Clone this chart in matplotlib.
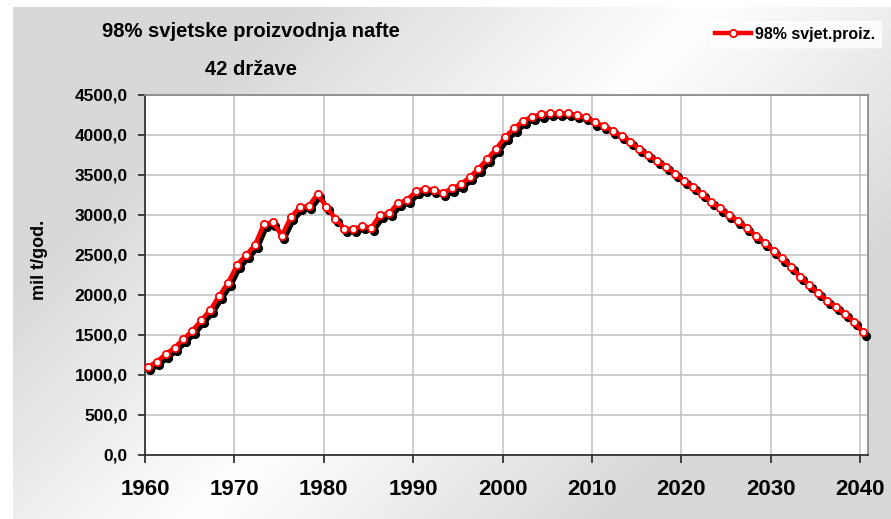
import matplotlib
matplotlib.use("Agg")
import matplotlib.pyplot as plt
import matplotlib.transforms as mtransforms
from matplotlib.lines import Line2D
from matplotlib.ticker import FuncFormatter
import numpy as np

# podaci: proizvodnja nafte (mil t/god.), 98% svjetske proizvodnje, 42 drzave
godine = list(range(1960, 2041))
proizvodnja = [
    1090, 1160, 1252, 1336, 1444, 1548, 1681, 1806, 1985, 2148,
    2369, 2494, 2619, 2881, 2902, 2735, 2965, 3090, 3106, 3256,
    3090, 2948, 2823, 2819, 2856, 2835, 2994, 3015, 3144, 3181,
    3290, 3325, 3306, 3265, 3327, 3377, 3465, 3573, 3698, 3823,
    3973, 4077, 4171, 4223, 4252, 4265, 4265, 4265, 4244, 4215,
    4152, 4110, 4048, 3981, 3910, 3815, 3744, 3669, 3598, 3506,
    3421, 3340, 3256, 3160, 3077, 2994, 2923, 2835, 2735, 2648,
    2544, 2452, 2340, 2223, 2119, 2015, 1923, 1840, 1756, 1660,
    1527,
]
x_ticks = [1960, 1970, 1980, 1990, 2000, 2010, 2020, 2030, 2040]
y_ticks = [0, 500, 1000, 1500, 2000, 2500, 3000, 3500, 4000, 4500]
naslov_1 = "98% svjetske proizvodnja nafte"
naslov_2 = "42 države"
oznaka_serije = "98% svjet.proiz."
oznaka_y = "mil t/god."

font = ["Liberation Sans", "DejaVu Sans"]

fig = plt.figure(figsize=(8.91, 5.19), dpi=100)

# pozadina s dijagonalnim gradijentom (sivo - bijelo - sivo)
W, H = 891, 519
bg = fig.add_axes([13 / W, 0, (W - 13) / W, (H - 7) / H], zorder=-10)
xx, yy = np.meshgrid(np.linspace(13, W, 300), np.linspace(7, H, 200))
t = (xx + yy - 20) / (W + H - 20)
f = np.clip(np.abs(2 * t - 1) / 0.6, 0, 1)
siva = 255 - (255 - 216) * f
img = np.dstack([siva, siva, siva]) / 255.0
bg.imshow(img, aspect="auto", extent=[0, 1, 0, 1], origin="upper")
bg.set_axis_off()

ax = fig.add_axes([145 / W, 1 - 454.5 / H, (868.3 - 145) / W, (454.5 - 94.5) / H])
ax.set_facecolor("white")

x = np.array(godine) + 0.3
y = np.array(proizvodnja)

# sjena (crna, pomaknuta desno-dolje)
sjena = mtransforms.offset_copy(ax.transData, fig=fig, x=1.9, y=-2.3, units="points")
ax.plot(x, y, color="black", lw=3.2, marker="o", ms=5.6, mfc="black", mec="black",
        transform=sjena, zorder=3, clip_on=False)
ax.plot(x, y, color="#FF0000", lw=3.2, marker="o", ms=5.2, mfc="white", mec="#FF0000",
        mew=1.3, zorder=4, clip_on=False)

ax.set_xlim(1960, 2040.9)
ax.set_ylim(0, 4500)
ax.set_xticks(x_ticks)
ax.set_yticks(y_ticks)
ax.yaxis.set_major_formatter(FuncFormatter(lambda v, p: f"{v:.1f}".replace(".", ",")))
ax.grid(True, color="#C0C0C0", lw=1.1)
ax.set_axisbelow(True)

for s in ["left", "bottom"]:
    ax.spines[s].set_color("#333333")
    ax.spines[s].set_linewidth(1.3)
for s in ["top", "right"]:
    ax.spines[s].set_color("#8C8C8C")
    ax.spines[s].set_linewidth(1.3)

ax.tick_params(axis="y", direction="out", length=5, width=1.3, color="#333333", pad=7.5)
ax.tick_params(axis="x", direction="out", length=6, width=1.3, color="#333333", pad=11.5)
for lab in ax.get_yticklabels():
    lab.set_fontfamily(font)
    lab.set_fontweight("bold")
    lab.set_fontsize(12.5)
for lab in ax.get_xticklabels():
    lab.set_fontfamily(font)
    lab.set_fontweight("bold")
    lab.set_fontsize(16)

fig.text(40 / W, 1 - 260 / H, oznaka_y, rotation=90, ha="center", va="center",
         fontsize=13, fontweight="bold", family=font)

# naslov u dva reda
fig.text(251 / W, 1 - 37 / H, naslov_1, ha="center", va="baseline",
         fontsize=14.5, fontweight="bold", family=font)
fig.text(251 / W, 1 - 75 / H, naslov_2, ha="center", va="baseline",
         fontsize=14.5, fontweight="bold", family=font)

# legenda
h = Line2D([], [], color="#FF0000", lw=3.2, marker="o", ms=5.2, mfc="white",
           mec="#FF0000", mew=1.3)
leg = fig.legend([h], [oznaka_serije], loc="upper right", bbox_to_anchor=(889 / W, 1 - 13 / H),
                 frameon=True, fancybox=False, handlelength=2.2, handletextpad=0.3,
                 borderpad=0.35, prop={"family": font, "weight": "bold", "size": 11.5})
leg.get_frame().set_facecolor("white")
leg.get_frame().set_edgecolor("white")

fig.savefig("out.png", dpi=100)
